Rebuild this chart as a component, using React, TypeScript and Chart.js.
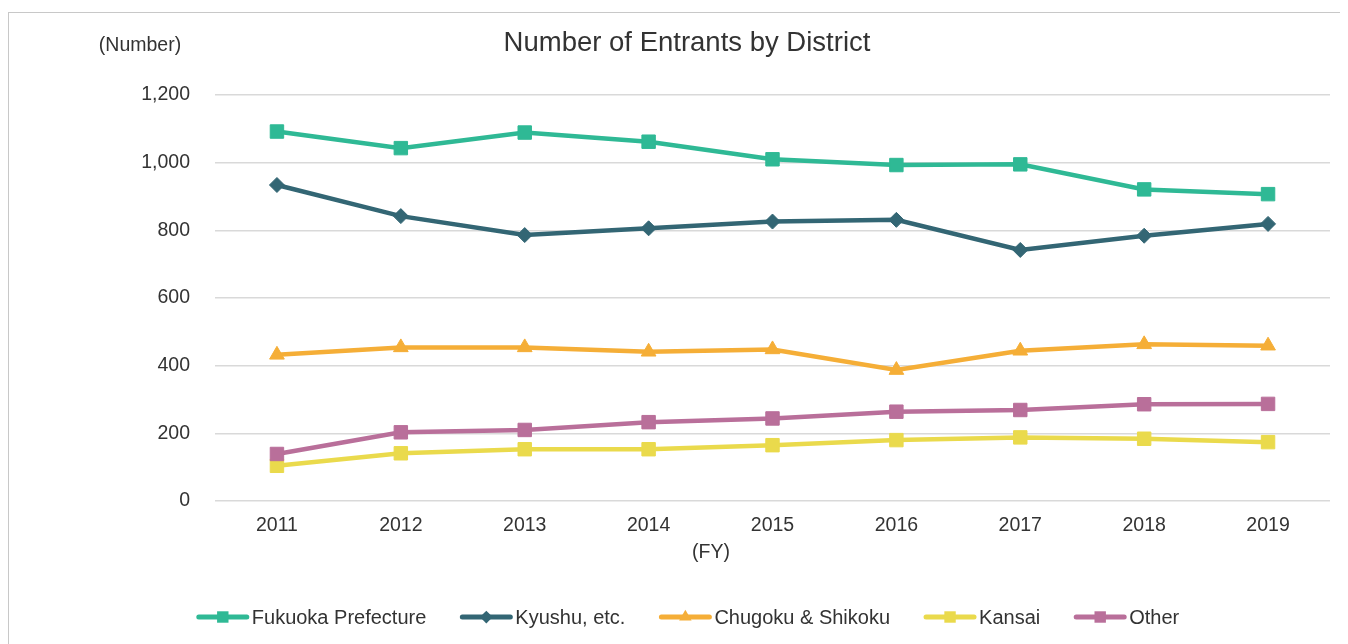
import React, { useEffect, useRef } from "react";
import { Chart, registerables } from "chart.js";

Chart.register(...registerables);

const years = ["2011", "2012", "2013", "2014", "2015", "2016", "2017", "2018", "2019"];
const fukuoka = [1092, 1043, 1089, 1062, 1010, 993, 995, 921, 907];
const kyushu = [934, 842, 786, 806, 826, 831, 742, 784, 819];
const chugoku = [432, 454, 454, 441, 448, 387, 444, 463, 459];
const kansai = [104, 141, 153, 153, 165, 180, 188, 184, 174];
const other = [139, 203, 210, 233, 244, 264, 269, 286, 287];

const seriesNames = ["Fukuoka Prefecture", "Kyushu, etc.", "Chugoku & Shikoku", "Kansai", "Other"];
const seriesColors = ["#2FB995", "#336674", "#F5AE37", "#EADA4C", "#B96F9A"];
const seriesStyles = ["rect", "rectRot", "triangle", "rect", "rect"];
const seriesRadius = [9.5, 7.5, 8.5, 9.5, 9.5];

const titleText = "Number of Entrants by District";
const yUnitText = "(Number)";
const xUnitText = "(FY)";

const FONT = '"Liberation Sans", Arial, sans-serif';
const TEXT_COLOR = "#333333";

function drawMarker(ctx: CanvasRenderingContext2D, style: string, x: number, y: number, r: number) {
  ctx.beginPath();
  if (style === "rect") {
    const s = Math.SQRT1_2 * r;
    ctx.rect(x - s, y - s, 2 * s, 2 * s);
  } else if (style === "rectRot") {
    ctx.moveTo(x - r, y);
    ctx.lineTo(x, y - r);
    ctx.lineTo(x + r, y);
    ctx.lineTo(x, y + r);
    ctx.closePath();
  } else {
    ctx.moveTo(x, y - r);
    ctx.lineTo(x + r * 0.866, y + r / 2);
    ctx.lineTo(x - r * 0.866, y + r / 2);
    ctx.closePath();
  }
  ctx.fill();
}

const textPlugin = {
  id: "textPlugin",
  afterDraw(chart: any) {
    const ctx: CanvasRenderingContext2D = chart.ctx;
    ctx.save();
    ctx.fillStyle = TEXT_COLOR;
    ctx.textBaseline = "middle";
    ctx.textAlign = "center";
    ctx.font = `27.5px ${FONT}`;
    ctx.fillText(titleText, 678, 30);
    ctx.font = `19.5px ${FONT}`;
    ctx.fillText(yUnitText, 131, 33);
    ctx.fillText(xUnitText, 702, 540);

    // legend
    ctx.font = `20px ${FONT}`;
    const sample = 52;
    const gap = 3;
    const spacing = 34;
    const ly = 604;
    const widths = seriesNames.map((n) => ctx.measureText(n).width);
    const total = widths.reduce((a, w) => a + sample + gap + w, 0) + spacing * (seriesNames.length - 1);
    let x = 679 - total / 2;
    ctx.textAlign = "left";
    seriesNames.forEach((name, i) => {
      ctx.strokeStyle = seriesColors[i];
      ctx.fillStyle = seriesColors[i];
      ctx.lineWidth = 5;
      ctx.lineCap = "round";
      ctx.beginPath();
      ctx.moveTo(x + 2, ly);
      ctx.lineTo(x + sample - 2, ly);
      ctx.stroke();
      drawMarker(ctx, seriesStyles[i], x + sample / 2, ly, seriesRadius[i] * 0.85);
      ctx.fillStyle = TEXT_COLOR;
      ctx.fillText(name, x + sample + gap, ly + 1);
      x += sample + gap + widths[i] + spacing;
    });
    ctx.restore();
  },
};

export default function App() {
  const canvasRef = useRef<HTMLCanvasElement | null>(null);

  useEffect(() => {
    document.documentElement.style.overflow = "hidden";
    const canvas = canvasRef.current;
    if (!canvas) return;
    const allData = [fukuoka, kyushu, chugoku, kansai, other];
    const chart = new Chart(canvas, {
      type: "line",
      data: {
        labels: years,
        datasets: allData.map((d, i) => ({
          label: seriesNames[i],
          data: d,
          borderColor: seriesColors[i],
          backgroundColor: seriesColors[i],
          borderWidth: 4.5,
          pointStyle: seriesStyles[i] as any,
          pointRadius: seriesRadius[i],
          pointBorderWidth: 1,
          pointBackgroundColor: seriesColors[i],
          pointBorderColor: seriesColors[i],
          tension: 0,
          fill: false,
          order: 5 - i,
        })),
      },
      options: {
        animation: false,
        responsive: false,
        devicePixelRatio: 1,
        layout: { padding: { top: 82, left: 0, right: 37, bottom: 112 } },
        plugins: {
          legend: { display: false },
          title: { display: false },
          tooltip: { enabled: false },
        },
        scales: {
          x: {
            offset: true,
            grid: { display: false, drawTicks: false },
            border: { display: false },
            ticks: {
              color: TEXT_COLOR,
              font: { family: FONT, size: 19.5 },
              padding: 13,
              maxRotation: 0,
            },
            afterFit: (scale: any) => {
              scale.height = 40;
            },
          },
          y: {
            min: 0,
            max: 1200,
            grid: { color: "#D9D9D9", lineWidth: 1.5, drawTicks: false },
            border: { display: false },
            ticks: {
              stepSize: 200,
              color: TEXT_COLOR,
              font: { family: FONT, size: 19.5 },
              padding: 25,
              callback: (v: any) => Number(v).toLocaleString("en-US"),
            },
            afterFit: (scale: any) => {
              scale.width = 206;
            },
          },
        },
      },
      plugins: [textPlugin],
    });
    return () => chart.destroy();
  }, []);

  return (
    <div style={{ width: 1348, height: 636, overflow: "hidden" }}>
      <div
        style={{
          marginTop: 4,
          width: 1360,
          height: 700,
          border: "1px solid #C8C8C8",
          boxSizing: "border-box",
        }}
      >
        <canvas ref={canvasRef} width={1358} height={640} style={{ display: "block" }} />
      </div>
    </div>
  );
}
